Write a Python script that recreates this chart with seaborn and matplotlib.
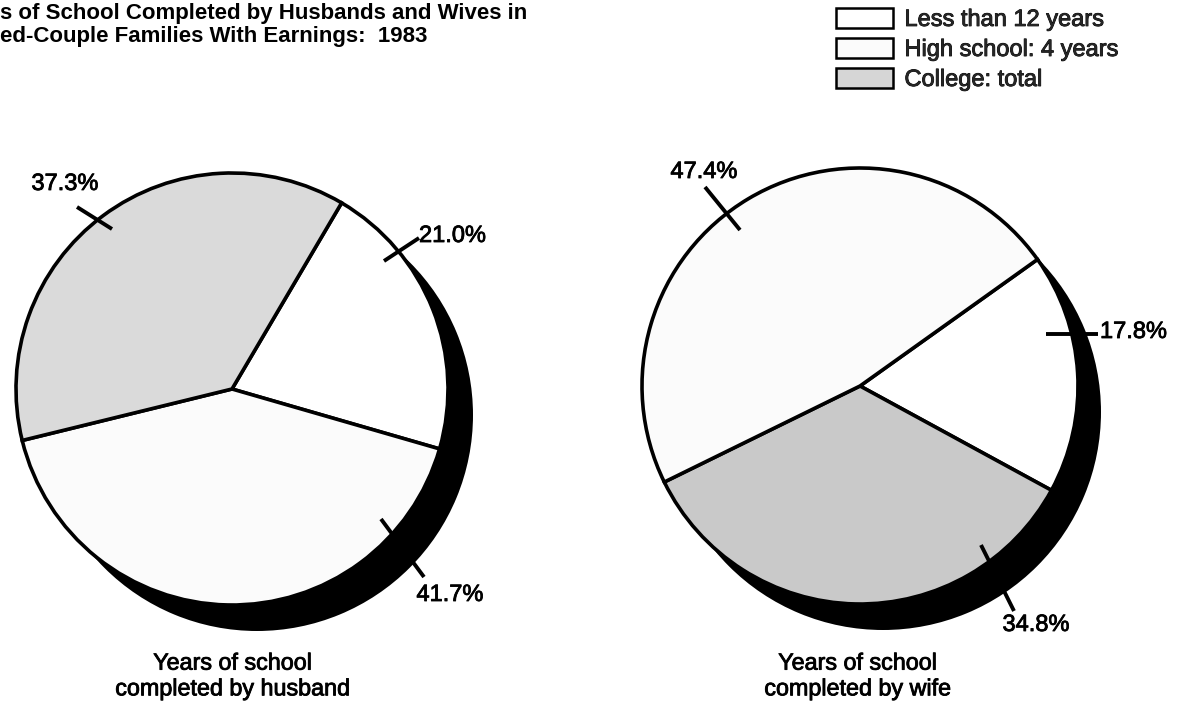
import matplotlib
matplotlib.use("Agg")
import matplotlib.pyplot as plt
import matplotlib.patheffects as pe
from matplotlib.patches import Patch
import seaborn as sns

# ---------------- data ----------------
categories = ["Less than 12 years", "High school: 4 years", "College: total"]
husband_pct = [21.0, 41.7, 37.3]
wife_pct = [17.8, 47.4, 34.8]
title_lines = ["s of School Completed by Husbands and Wives in",
               "ed-Couple Families With Earnings:  1983"]
captions = ["Years of school\ncompleted by husband",
            "Years of school\ncompleted by wife"]

# ---------------- style ----------------
sns.set_theme(style="white")
plt.rcParams['font.family'] = ['Liberation Sans', 'DejaVu Sans']

W, H = 1186, 705
fig = plt.figure(figsize=(W / 100, H / 100), dpi=100)
ax = fig.add_axes([0, 0, 1, 1])

cat_colors = {"Less than 12 years": "#ffffff",
              "High school: 4 years": "#fbfbfb",
              "College: total": "#d6d6d6"}
thick = [pe.withStroke(linewidth=0.6, foreground="black")]

def Y(y_img):
    return H - y_img

def draw_pie(values, order, center_img, radius, shadow_off, start, college_color,
             leaders, labels_pos, caption, cap_x):
    cx, cy = center_img[0], Y(center_img[1])
    # drop shadow
    ax.pie([1], colors=["black"], radius=radius,
           center=(cx + shadow_off[0], cy - shadow_off[1]),
           wedgeprops=dict(linewidth=0))
    vals = [values[i] for i in order]
    cols = [college_color if categories[i] == "College: total"
            else cat_colors[categories[i]] for i in order]
    ax.pie(vals, colors=cols, radius=radius, center=(cx, cy), startangle=start,
           counterclock=False,
           wedgeprops=dict(edgecolor="black", linewidth=2.6, joinstyle="miter"))
    for (x0, y0), (x1, y1) in leaders:
        ax.plot([center_img[0] + x0, center_img[0] + x1],
                [Y(center_img[1] + y0), Y(center_img[1] + y1)],
                color="black", lw=2.8, solid_capstyle="butt", zorder=5)
    for txt, (lx, ly, ha) in labels_pos:
        ax.text(lx, Y(ly), txt, ha=ha, va="center", fontsize=17, color="black",
                path_effects=thick)
    ax.text(cap_x, Y(676), caption, ha="center", va="center", fontsize=16.8,
            linespacing=1.15, color="black", path_effects=thick)

# husband pie (clockwise: less, high school, college)
draw_pie(husband_pct, [0, 1, 2], (232, 389), 216, (25, 26), 59.5, "#dadada",
         leaders=[((-155, -182), (-120, -160)),
                  ((152, -128), (187, -151)),
                  ((149, 130), (192, 188))],
         labels_pos=[(f"{husband_pct[2]:.1f}%", (65, 184, "center")),
                     (f"{husband_pct[0]:.1f}%", (419, 236, "left")),
                     (f"{husband_pct[1]:.1f}%", (450, 595, "center"))],
         caption=captions[0], cap_x=233)

# wife pie (clockwise: less, college, high school)
draw_pie(wife_pct, [0, 2, 1], (860, 386), 218, (23, 26), 35.5, "#c9c9c9",
         leaders=[((-155, -199), (-120, -156)),
                  ((186, -52), (238, -52)),
                  ((121, 159), (154, 225))],
         labels_pos=[(f"{wife_pct[1]:.1f}%", (704, 172, "center")),
                     (f"{wife_pct[0]:.1f}%", (1100, 332, "left")),
                     (f"{wife_pct[2]:.1f}%", (1036, 625, "center"))],
         caption=captions[1], cap_x=858)

ax.set_xlim(0, W)
ax.set_ylim(0, H)
ax.set_aspect("auto")
ax.axis("off")

# title (cropped in the original)
ax.text(0, Y(3), title_lines[0] + "\n" + title_lines[1], ha="left", va="top",
        fontsize=16, fontweight="bold", linespacing=1.1, color="black")

# legend
handles = [Patch(facecolor=cat_colors[c], edgecolor="black", linewidth=1.8)
           for c in categories]
leg = fig.legend(handles, categories, loc="upper left",
                 bbox_to_anchor=(836 / W, 1 - 8 / H), frameon=False,
                 fontsize=17, handlelength=2.4, handleheight=0.9,
                 handletextpad=0.5, labelspacing=0.3, borderpad=0,
                 borderaxespad=0)
for t in leg.get_texts():
    t.set_path_effects(thick)

fig.savefig("out.png", dpi=100, facecolor="white")
